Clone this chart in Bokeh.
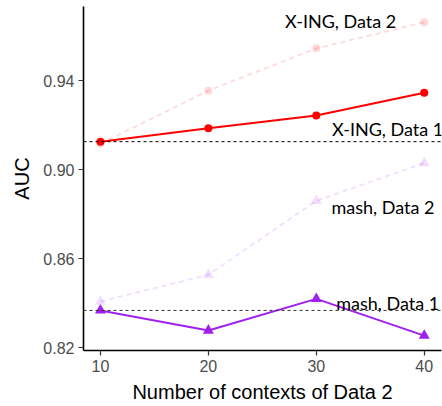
from bokeh.plotting import figure
from bokeh.models import Range1d, Span, FixedTicker, ColumnDataSource, CustomJSTickFormatter
from bokeh.core.properties import value
from bokeh.embed import file_html
from bokeh.resources import INLINE

# Number of contexts of Data 2
contexts = [10, 20, 30, 40]

# AUC per method / dataset
xing_data1 = [0.9126, 0.9186, 0.9243, 0.9346]
xing_data2 = [0.9117, 0.9355, 0.9545, 0.9662]
mash_data1 = [0.8368, 0.8278, 0.8420, 0.8255]
mash_data2 = [0.8408, 0.8528, 0.8860, 0.9030]

# Series annotations (text, x, y)
label_text = ["X-ING, Data 2", "X-ING, Data 1", "mash, Data 2", "mash, Data 1"]
label_x = [27.1, 31.45, 31.4, 31.85]
label_y = [0.9670, 0.9184, 0.8834, 0.8402]

x_ticks = [10, 20, 30, 40]
y_ticks = [0.82, 0.86, 0.90, 0.94]

RED = "#ff0000"
PURPLE = "#a020f0"

p = figure(
    width=442, height=406,
    output_backend="svg", toolbar_location=None,
    x_range=Range1d(8.43, 41.6), y_range=Range1d(0.8188, 0.9733),
    min_border_left=83, min_border_right=1, min_border_top=6, min_border_bottom=56,
    background_fill_color="white", border_fill_color="white",
)
p.outline_line_color = None
p.grid.grid_line_color = None

# Baselines at the Data 1 value for the smallest context count
p.add_layout(Span(location=xing_data1[0], dimension="width", line_color="black",
                  line_width=1, line_dash="3 3"))
p.add_layout(Span(location=mash_data1[0], dimension="width", line_color="#333333",
                  line_width=1, line_dash="3 3"))

# Data 2 series: faded, dashed
p.line(contexts, xing_data2, line_color=RED, line_alpha=0.15, line_width=1.8, line_dash="5 4")
p.scatter(contexts, xing_data2, marker="circle", size=8, fill_color=RED, fill_alpha=0.15,
          line_color=None)
p.line(contexts, mash_data2, line_color=PURPLE, line_alpha=0.15, line_width=1.8, line_dash="5 4")
p.scatter(contexts, mash_data2, marker="triangle", size=11, fill_color=PURPLE, fill_alpha=0.15,
          line_color=None)

# Data 1 series: solid
p.line(contexts, xing_data1, line_color=RED, line_width=2)
p.scatter(contexts, xing_data1, marker="circle", size=8, fill_color=RED, line_color=None)
p.line(contexts, mash_data1, line_color=PURPLE, line_width=2)
p.scatter(contexts, mash_data1, marker="triangle", size=11, fill_color=PURPLE, line_color=None)

labels = ColumnDataSource(dict(x=label_x, y=label_y, text=label_text))
p.text("x", "y", text="text", source=labels, text_font=value("Lato"),
       text_font_size="18px", text_color="black", text_align="left",
       text_baseline="alphabetic")

for ax in (p.xaxis[0], p.yaxis[0]):
    ax.axis_line_color = "black"
    ax.axis_line_width = 1.6
    ax.major_tick_line_color = "#333333"
    ax.major_tick_line_width = 1.2
    ax.major_tick_in = 0
    ax.major_tick_out = 5
    ax.minor_tick_line_color = None
    ax.major_label_text_font = "Liberation Sans"
    ax.major_label_text_font_size = "16px"
    ax.major_label_text_color = "#4d4d4d"
    ax.major_label_standoff = 4
    ax.axis_label_text_font = "Liberation Sans"
    ax.axis_label_text_font_size = "20px"
    ax.axis_label_text_font_style = "normal"
    ax.axis_label_text_color = "black"

p.xaxis.ticker = FixedTicker(ticks=x_ticks)
p.yaxis.ticker = FixedTicker(ticks=y_ticks)
p.yaxis.formatter = CustomJSTickFormatter(code="return tick.toFixed(2);")
p.xaxis.axis_label = "Number of contexts of Data 2"
p.yaxis.axis_label = "AUC"
p.xaxis.axis_label_standoff = 6
p.yaxis.axis_label_standoff = 7

open("out.html", "w").write(file_html(p, INLINE))
